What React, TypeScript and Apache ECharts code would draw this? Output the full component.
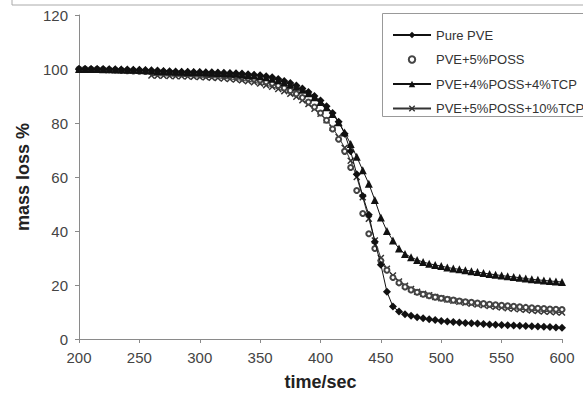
import React, { useEffect, useRef } from "react";
import * as echarts from "echarts";

const timeSec = [
  200, 205, 210, 215, 220, 225, 230, 235, 240, 245, 250, 255, 260, 265, 270, 275, 280, 285, 290, 295,
  300, 305, 310, 315, 320, 325, 330, 335, 340, 345, 350, 355, 360, 365, 370, 375, 380, 385, 390, 395,
  400, 405, 410, 415, 420, 425, 430, 435, 440, 445, 450, 455, 460, 465, 470, 475, 480, 485, 490, 495,
  500, 505, 510, 515, 520, 525, 530, 535, 540, 545, 550, 555, 560, 565, 570, 575, 580, 585, 590, 595,
  600,
];

const purePVE = [
  100, 100, 100, 100, 100, 99.9, 99.9, 99.8, 99.8, 99.7, 99.7, 99.6, 99.5, 99.4, 99.3, 99.2, 99.1, 99.0, 99.0, 98.9,
  98.9, 98.8, 98.8, 98.7, 98.6, 98.5, 98.4, 98.3, 98.1, 97.9, 97.7, 97.3, 96.9, 96.3, 95.6, 94.8, 93.9, 92.8, 91.5, 90.0,
  88.3, 86.2, 83.7, 80.5, 76.0, 69.5, 61.0, 53.0, 46.0, 36.0, 27.5, 17.5, 12.0, 10.2, 9.2, 8.6, 8.1, 7.7, 7.3, 7.0,
  6.7, 6.5, 6.3, 6.1, 5.9, 5.8, 5.7, 5.6, 5.4, 5.3, 5.2, 5.1, 5.0, 4.9, 4.8, 4.7, 4.6, 4.5, 4.4, 4.3,
  4.2,
];

const pve5POSS = [
  100, 100, 99.9, 99.9, 99.8, 99.7, 99.6, 99.5, 99.4, 99.3, 99.2, 99.1, 99.0, 98.9, 98.8, 98.7, 98.6, 98.5, 98.4, 98.3,
  98.2, 98.1, 98.0, 97.9, 97.7, 97.5, 97.3, 97.0, 96.7, 96.3, 95.9, 95.3, 94.7, 93.9, 93.0, 92.0, 90.8, 89.4, 87.8, 85.9,
  83.7, 81.0, 77.8, 74.0, 69.5, 63.5, 55.0, 46.5, 39.0, 33.5, 29.0, 25.5, 22.8, 20.8, 19.3, 18.2, 17.3, 16.6, 16.0, 15.5,
  15.1, 14.7, 14.4, 14.1, 13.8, 13.6, 13.3, 13.1, 12.9, 12.7, 12.5, 12.3, 12.1, 11.9, 11.7, 11.6, 11.4, 11.3, 11.1, 11.0,
  10.9,
];

const pve4POSS4TCP = [
  100, 100, 100, 100, 99.9, 99.9, 99.8, 99.8, 99.7, 99.7, 99.6, 99.5, 99.4, 99.3, 99.2, 99.1, 99.0, 99.0, 98.9, 98.8,
  98.8, 98.7, 98.6, 98.5, 98.4, 98.3, 98.2, 98.0, 97.8, 97.6, 97.3, 96.9, 96.4, 95.8, 95.1, 94.3, 93.4, 92.3, 91.0, 89.5,
  87.8, 85.8, 83.3, 80.3, 76.5, 72.2, 67.5, 62.5, 57.5, 51.5, 45.0, 40.0, 36.5, 33.5, 31.5, 30.3, 29.3, 28.5, 27.9, 27.4,
  27.0, 26.5, 26.1, 25.8, 25.5, 25.1, 24.8, 24.4, 24.1, 23.8, 23.5, 23.2, 23.0, 22.7, 22.4, 22.1, 21.9, 21.7, 21.5, 21.3,
  21.1,
];

const pve5POSS10TCP = [
  null, null, null, null, null, null, null, null, null, null, null, null, 97.6, 97.5, 97.5, 97.4, 97.3, 97.3, 97.2, 97.1,
  97.0, 96.9, 96.8, 96.7, 96.5, 96.3, 96.1, 95.8, 95.5, 95.1, 94.6, 94.0, 93.4, 92.6, 91.8, 90.8, 89.7, 88.4, 87.0, 85.3,
  83.4, 81.0, 78.2, 74.8, 70.8, 66.0, 60.0, 52.5, 44.5, 36.5, 30.0, 26.0, 23.5, 21.3, 19.7, 18.5, 17.5, 16.8, 16.2, 15.6,
  15.1, 14.6, 14.2, 13.8, 13.4, 13.1, 12.8, 12.5, 12.2, 11.9, 11.7, 11.4, 11.2, 11.0, 10.8, 10.6, 10.4, 10.2, 10.1, 9.9,
  9.8,
];

const seriesNames = ["Pure PVE", "PVE+5%POSS", "PVE+4%POSS+4%TCP", "PVE+5%POSS+10%TCP"];

const FONT = "'Liberation Sans', Arial, sans-serif";
const X_SYMBOL = "path://M0,1.5L1.5,0L5,3.5L8.5,0L10,1.5L6.5,5L10,8.5L8.5,10L5,6.5L1.5,10L0,8.5L3.5,5Z";

function pairs(values: (number | null)[]) {
  return timeSec.map((t, i) => [t, values[i]]).filter((p) => p[1] !== null);
}

export default function App() {
  const ref = useRef<HTMLDivElement>(null);

  useEffect(() => {
    if (!ref.current) return;
    const chart = echarts.init(ref.current, undefined, { renderer: "svg" });
    const axisColor = "#8a8a8a";
    chart.setOption({
      animation: false,
      backgroundColor: "#ffffff",
      textStyle: { fontFamily: FONT },
      grid: { left: 79, right: 21, top: 15, bottom: 58, containLabel: false },
      xAxis: {
        type: "value",
        min: 200,
        max: 600,
        interval: 50,
        name: "time/sec",
        nameLocation: "middle",
        nameGap: 34,
        nameTextStyle: { fontFamily: FONT, fontSize: 18, fontWeight: "bold", color: "#222" },
        axisLine: { show: true, lineStyle: { color: axisColor, width: 1 } },
        axisTick: { show: true, length: 4, lineStyle: { color: axisColor } },
        axisLabel: { fontFamily: FONT, fontSize: 15, color: "#444", margin: 11 },
        splitLine: { show: false },
      },
      yAxis: {
        type: "value",
        min: 0,
        max: 120,
        interval: 20,
        name: "mass loss %",
        nameLocation: "middle",
        nameGap: 46,
        nameTextStyle: { fontFamily: FONT, fontSize: 18, fontWeight: "bold", color: "#222" },
        axisLine: { show: true, lineStyle: { color: axisColor, width: 1 } },
        axisTick: { show: true, length: 4, lineStyle: { color: axisColor } },
        axisLabel: { fontFamily: FONT, fontSize: 15, color: "#444", margin: 11 },
        splitLine: { show: false },
      },
      legend: {
        show: true,
        orient: "vertical",
        left: 387,
        top: 23,
        itemWidth: 38,
        itemHeight: 8,
        itemGap: 10.5,
        data: seriesNames,
        textStyle: { fontFamily: FONT, fontSize: 13, color: "#333", lineHeight: 14 },
      },
      graphic: [
        {
          type: "polyline",
          shape: { points: [[12, 0], [12, 5], [590, 5]] },
          style: { stroke: "#aaaaaa", fill: "none", lineWidth: 1 },
          silent: true,
        },
        {
          type: "rect",
          shape: { x: 382.5, y: 13.5, width: 260, height: 103 },
          style: { stroke: "#999999", fill: "none", lineWidth: 1 },
          silent: true,
        },
      ],
      series: [
        {
          name: seriesNames[3],
          type: "line",
          data: pairs(pve5POSS10TCP),
          symbol: X_SYMBOL,
          symbolSize: 7,
          showAllSymbol: true,
          itemStyle: { color: "#333" },
          lineStyle: { color: "#333", width: 1 },
          z: 2,
        },
        {
          name: seriesNames[1],
          type: "line",
          data: pairs(pve5POSS),
          symbol: "emptyCircle",
          symbolSize: 5,
          showAllSymbol: true,
          itemStyle: { color: "#444", borderColor: "#444", borderWidth: 1 },
          lineStyle: { color: "#444", width: 0, opacity: 0 },
          z: 3,
        },
        {
          name: seriesNames[0],
          type: "line",
          data: pairs(purePVE),
          symbol: "diamond",
          symbolSize: 8,
          showAllSymbol: true,
          itemStyle: { color: "#111" },
          lineStyle: { color: "#111", width: 1 },
          z: 4,
        },
        {
          name: seriesNames[2],
          type: "line",
          data: pairs(pve4POSS4TCP),
          symbol: "triangle",
          symbolSize: 8,
          showAllSymbol: true,
          itemStyle: { color: "#111" },
          lineStyle: { color: "#111", width: 1 },
          z: 4,
        },
      ],
    });
    return () => chart.dispose();
  }, []);

  return (
    <div
      ref={ref}
      style={{ position: "fixed", left: 0, top: 0, width: 583, height: 397, background: "#fff" }}
    />
  );
}
